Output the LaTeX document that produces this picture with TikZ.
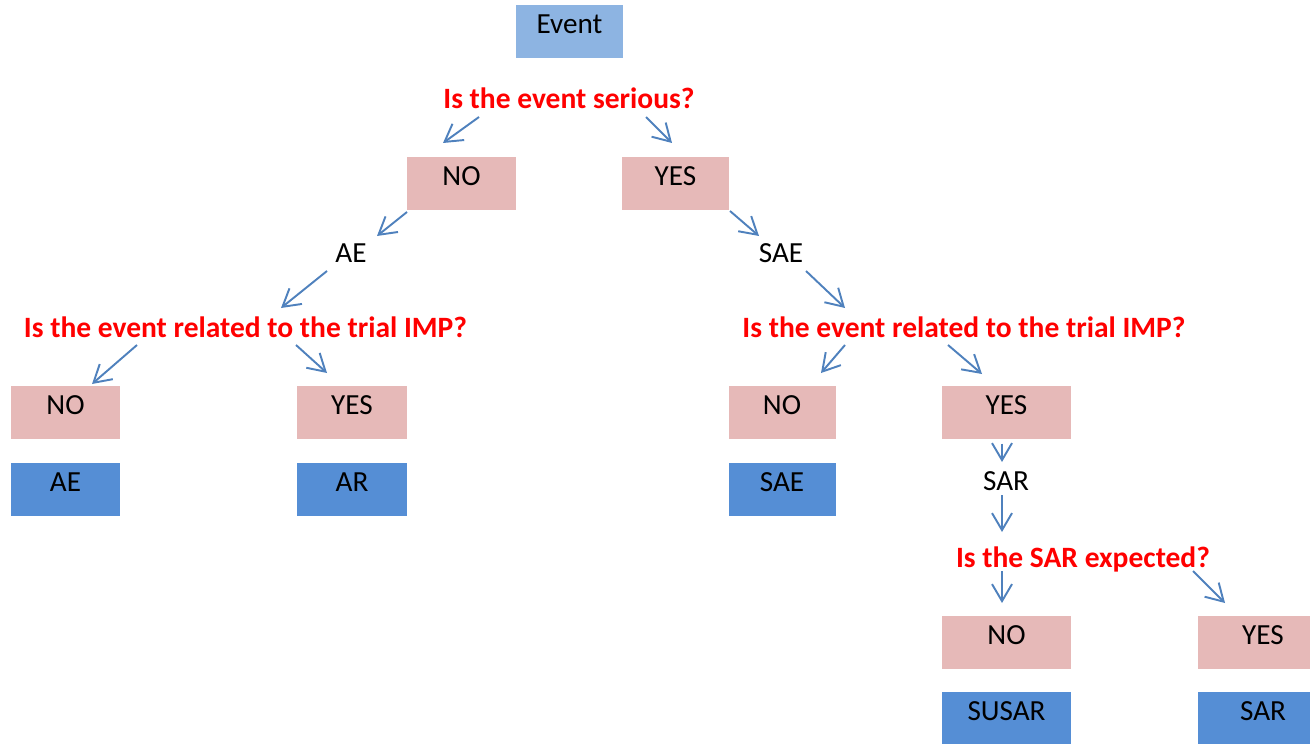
\documentclass[tikz,border=0pt]{standalone}
\usepackage{fontspec}
\setmainfont{Carlito}
\usepackage{tikz}
\usetikzlibrary{arrows.meta,positioning,calc}
\definecolor{boxpink}{HTML}{E6B9B8}
\definecolor{boxblue}{HTML}{558ED5}
\definecolor{evblue}{HTML}{8DB4E2}
\definecolor{arrblue}{HTML}{4F81BD}
\definecolor{qred}{HTML}{FF0000}
\tikzset{
  answer/.style={fill=boxpink,anchor=north,inner xsep=0pt,inner ysep=0pt,text height=0.56cm,text depth=0.5cm,minimum width=#1},
  answer/.default=2.16cm,
  result/.style={answer=#1,fill=boxblue},
  result/.default=2.16cm,
  question/.style={anchor=base,inner sep=0pt,text=qred,font=\fontsize{16.8}{19}\selectfont\bfseries},
  kind/.style={anchor=base,inner sep=0pt},
  flow/.style={draw=arrblue,line width=1.1pt,-{Straight Barb[length=0.34cm,width=0.4cm]}},
}

\begin{document}
\begin{tikzpicture}[x=0.02cm,y=-0.02cm,font=\fontsize{16.6}{19}\selectfont]
\useasboundingbox (0,0) rectangle (1310,743);
\node[answer=2.14cm,fill=evblue] (ev) at (569.5,5) {Event};
\node[question] (qserious) at (569,109) {Is the event serious?};
\node[answer=2.18cm] (no1) at (461.5,157) {NO};
\node[answer=2.14cm] (yes1) at (675.5,157) {YES};
\node[kind] (ae) at (351,262) {AE};
\node[kind] (sae) at (781,262) {SAE};
\node[question] (qrelL) at (245.5,337) {Is the event related to the trial IMP?};
\node[question] (qrelR) at (964,337) {Is the event related to the trial IMP?};
\node[answer=2.18cm] (noL) at (65.5,386) {NO};
\node[answer=2.2cm] (yesL) at (352,386) {YES};
\node[result=2.18cm] (boxAE) at (65.5,463) {AE};
\node[result=2.2cm] (boxAR) at (352,463) {AR};
\node[answer=2.14cm] (noR) at (782,386) {NO};
\node[answer=2.58cm] (yesR) at (1006.5,386) {YES};
\node[result=2.14cm] (boxSAE) at (782,463) {SAE};
\node[kind] (sar) at (1006,490) {SAR};
\node[question] (qexp) at (1083,567) {Is the SAR expected?};
\node[answer=2.58cm] (noX) at (1006.5,616) {NO};
\node[answer=2.6cm] (yesX) at (1263,616) {YES};
\node[result=2.58cm] (boxSUSAR) at (1006.5,692) {SUSAR};
\node[result=2.6cm] (boxSAR) at (1263,692) {SAR};
\draw[flow] ([shift={(-90,8)}]qserious.base) -- ([shift={(-18.5,-14)}]no1.north);
\draw[flow] ([shift={(77,8)}]qserious.base) -- ([shift={(-3.5,-14)}]yes1.north);
\draw[flow] ([shift={(-54.5,55)}]no1.north) -- ([shift={(26,-26)}]ae.base);
\draw[flow] ([shift={(-24,9)}]ae.base) -- ([shift={(35.5,-29)}]qrelL.base);
\draw[flow] ([shift={(54.5,54)}]yes1.north) -- ([shift={(-22,-26)}]sae.base);
\draw[flow] ([shift={(25,9)}]sae.base) -- ([shift={(-119,-29)}]qrelR.base);
\draw[flow] ([shift={(-108.5,8)}]qrelL.base) -- ([shift={(26.5,-2)}]noL.north);
\draw[flow] ([shift={(50.5,8)}]qrelL.base) -- ([shift={(-25,-13)}]yesL.north);
\draw[flow] ([shift={(-119,8)}]qrelR.base) -- ([shift={(39,-13)}]noR.north);
\draw[flow] ([shift={(-16,8)}]qrelR.base) -- ([shift={(-24.5,-12)}]yesR.north);
\draw[flow] ([shift={(-4.5,4)}]yesR.south) -- ([shift={(-4,-28)}]sar.base);
\draw[flow] ([shift={(-4,5)}]sar.base) -- ([shift={(-81,-35)}]qexp.base);
\draw[flow] ([shift={(-81,4)}]qexp.base) -- ([shift={(-4.5,-13)}]noX.north);
\draw[flow] ([shift={(110,4)}]qexp.base) -- ([shift={(-38,-13)}]yesX.north);
\end{tikzpicture}
\end{document}
